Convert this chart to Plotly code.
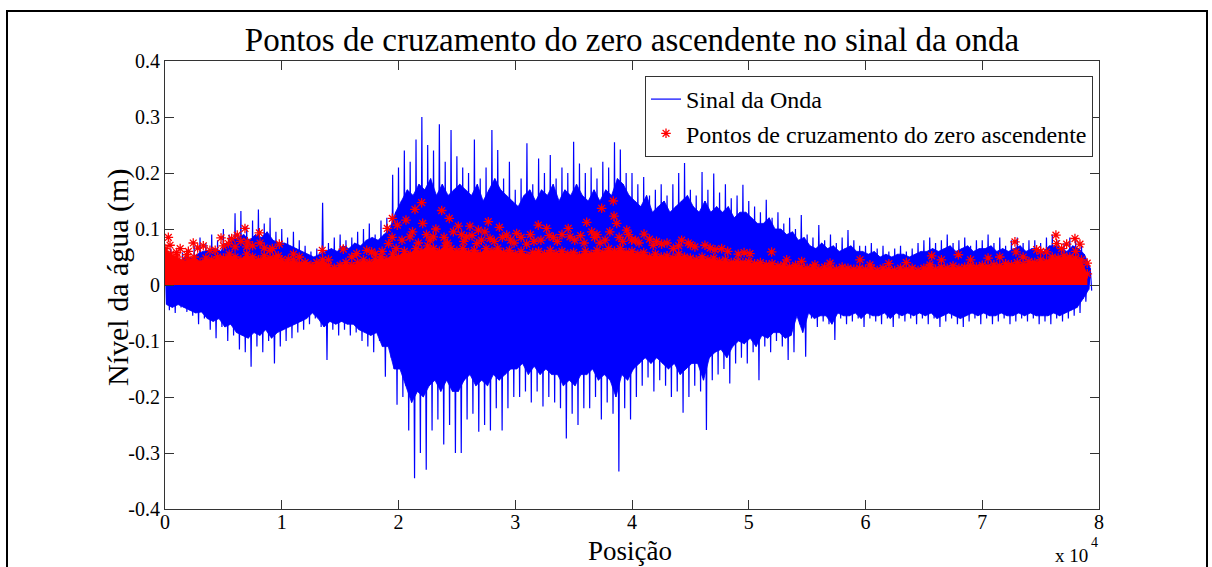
import plotly.graph_objects as go

# ---------------- data ----------------
# wave signal: largest peak (hi) / trough (lo) and typical peak (hi2) / trough (lo2)
# in each 500-position slot
sig_pos = list(range(0, 79001, 500))
sig_hi = [0.06, 0.065, 0.055, 0.058, 0.06, 0.07, 0.085, 0.075, 0.09, 0.08,
          0.10, 0.09, 0.128, 0.132, 0.105, 0.115, 0.135, 0.11, 0.12, 0.095,
          0.10, 0.085, 0.095, 0.08, 0.07, 0.06, 0.065, 0.147, 0.075, 0.085,
          0.09, 0.08, 0.085, 0.095, 0.10, 0.11, 0.09, 0.115, 0.12, 0.197,
          0.21, 0.24, 0.22, 0.26, 0.30, 0.25, 0.24, 0.287, 0.22, 0.277,
          0.23, 0.21, 0.20, 0.26, 0.19, 0.21, 0.277, 0.241, 0.19, 0.22,
          0.17, 0.19, 0.253, 0.18, 0.226, 0.20, 0.232, 0.19, 0.21, 0.20,
          0.256, 0.217, 0.20, 0.21, 0.19, 0.22, 0.21, 0.255, 0.242, 0.20,
          0.20, 0.18, 0.193, 0.16, 0.17, 0.18, 0.16, 0.18, 0.20, 0.218,
          0.17, 0.16, 0.202, 0.17, 0.199, 0.165, 0.18, 0.155, 0.16, 0.179,
          0.15, 0.14, 0.13, 0.152, 0.12, 0.13, 0.11, 0.12, 0.10, 0.125,
          0.09, 0.085, 0.107, 0.08, 0.09, 0.075, 0.085, 0.098, 0.08, 0.07,
          0.07, 0.075, 0.065, 0.07, 0.06, 0.065, 0.07, 0.06, 0.065, 0.075,
          0.08, 0.085, 0.075, 0.08, 0.09, 0.075, 0.08, 0.085, 0.07, 0.08,
          0.08, 0.09, 0.075, 0.085, 0.07, 0.08, 0.085, 0.075, 0.08, 0.08,
          0.075, 0.085, 0.09, 0.08, 0.075, 0.085, 0.08, 0.07, 0.04]
sig_lo = [-0.045, -0.05, -0.04, -0.048, -0.055, -0.07, -0.06, -0.08, -0.095, -0.075,
          -0.10, -0.09, -0.115, -0.12, -0.146, -0.11, -0.12, -0.10, -0.14, -0.11,
          -0.10, -0.095, -0.085, -0.08, -0.07, -0.06, -0.075, -0.134, -0.08, -0.09,
          -0.08, -0.09, -0.085, -0.10, -0.11, -0.12, -0.10, -0.164, -0.13, -0.214,
          -0.20, -0.26, -0.345, -0.30, -0.33, -0.26, -0.24, -0.285, -0.25, -0.30,
          -0.30, -0.24, -0.23, -0.262, -0.25, -0.26, -0.22, -0.26, -0.22, -0.20,
          -0.20, -0.19, -0.21, -0.19, -0.217, -0.20, -0.21, -0.22, -0.274, -0.23,
          -0.25, -0.22, -0.22, -0.20, -0.24, -0.21, -0.23, -0.333, -0.22, -0.24,
          -0.20, -0.18, -0.165, -0.19, -0.17, -0.18, -0.20, -0.19, -0.228, -0.20,
          -0.18, -0.19, -0.259, -0.17, -0.16, -0.15, -0.176, -0.14, -0.13, -0.14,
          -0.12, -0.17, -0.11, -0.12, -0.10, -0.11, -0.134, -0.12, -0.07, -0.128,
          -0.06, -0.075, -0.065, -0.07, -0.098, -0.06, -0.07, -0.065, -0.06, -0.075,
          -0.06, -0.065, -0.07, -0.06, -0.075, -0.06, -0.065, -0.06, -0.07, -0.06,
          -0.07, -0.06, -0.075, -0.065, -0.06, -0.07, -0.075, -0.065, -0.06, -0.07,
          -0.06, -0.07, -0.065, -0.06, -0.07, -0.065, -0.06, -0.065, -0.06, -0.07,
          -0.065, -0.07, -0.06, -0.065, -0.06, -0.055, -0.05, -0.03, -0.01]
sig_hi2 = [0.045, 0.05, 0.042, 0.05, 0.048, 0.055, 0.06, 0.062, 0.065, 0.06,
           0.075, 0.08, 0.085, 0.09, 0.08, 0.09, 0.085, 0.095, 0.08, 0.075,
           0.075, 0.07, 0.065, 0.06, 0.055, 0.05, 0.055, 0.06, 0.065, 0.06,
           0.07, 0.065, 0.075, 0.07, 0.08, 0.085, 0.08, 0.09, 0.10, 0.13,
           0.15, 0.17, 0.16, 0.18, 0.17, 0.19, 0.16, 0.18, 0.16, 0.17,
           0.18, 0.17, 0.16, 0.18, 0.15, 0.17, 0.19, 0.17, 0.16, 0.15,
           0.14, 0.16, 0.17, 0.15, 0.17, 0.16, 0.18, 0.15, 0.17, 0.16,
           0.18, 0.16, 0.15, 0.17, 0.15, 0.17, 0.16, 0.19, 0.18, 0.16,
           0.15, 0.14, 0.16, 0.13, 0.14, 0.15, 0.13, 0.14, 0.15, 0.16,
           0.14, 0.13, 0.15, 0.13, 0.14, 0.13, 0.14, 0.12, 0.13, 0.13,
           0.12, 0.11, 0.11, 0.12, 0.10, 0.10, 0.09, 0.095, 0.08, 0.085,
           0.07, 0.065, 0.075, 0.065, 0.07, 0.06, 0.065, 0.07, 0.06, 0.06,
           0.055, 0.06, 0.05, 0.055, 0.05, 0.055, 0.055, 0.05, 0.055, 0.06,
           0.06, 0.065, 0.06, 0.065, 0.07, 0.06, 0.065, 0.07, 0.06, 0.065,
           0.065, 0.07, 0.06, 0.065, 0.06, 0.065, 0.07, 0.06, 0.065, 0.065,
           0.06, 0.07, 0.07, 0.065, 0.06, 0.07, 0.065, 0.055, 0.03]
sig_lo2 = [-0.035, -0.04, -0.035, -0.04, -0.045, -0.05, -0.048, -0.06, -0.065, -0.06,
           -0.075, -0.07, -0.085, -0.09, -0.095, -0.085, -0.09, -0.08, -0.095, -0.085,
           -0.08, -0.075, -0.07, -0.065, -0.06, -0.05, -0.06, -0.075, -0.065, -0.07,
           -0.065, -0.07, -0.07, -0.08, -0.085, -0.09, -0.085, -0.11, -0.11, -0.15,
           -0.15, -0.18, -0.21, -0.19, -0.20, -0.18, -0.17, -0.19, -0.17, -0.19,
           -0.19, -0.17, -0.16, -0.18, -0.17, -0.18, -0.16, -0.17, -0.16, -0.15,
           -0.15, -0.14, -0.16, -0.145, -0.16, -0.15, -0.16, -0.16, -0.18, -0.17,
           -0.18, -0.16, -0.16, -0.15, -0.17, -0.16, -0.17, -0.20, -0.16, -0.17,
           -0.15, -0.14, -0.13, -0.14, -0.13, -0.14, -0.15, -0.14, -0.16, -0.15,
           -0.14, -0.14, -0.17, -0.13, -0.12, -0.115, -0.13, -0.11, -0.10, -0.105,
           -0.095, -0.11, -0.09, -0.095, -0.085, -0.085, -0.095, -0.09, -0.055, -0.085,
           -0.05, -0.06, -0.055, -0.055, -0.07, -0.05, -0.055, -0.055, -0.05, -0.06,
           -0.05, -0.055, -0.055, -0.05, -0.06, -0.05, -0.055, -0.05, -0.055, -0.05,
           -0.055, -0.05, -0.06, -0.055, -0.05, -0.055, -0.06, -0.055, -0.05, -0.055,
           -0.05, -0.055, -0.055, -0.05, -0.055, -0.055, -0.05, -0.055, -0.05, -0.055,
           -0.055, -0.055, -0.05, -0.055, -0.05, -0.045, -0.04, -0.025, -0.008]

# top of the dense cloud of red crossing points, every 500 positions
red_top = [0.065, 0.055, 0.05, 0.042, 0.045, 0.05, 0.04, 0.048, 0.045, 0.05,
           0.048, 0.055, 0.05, 0.045, 0.055, 0.05, 0.045, 0.052, 0.048, 0.05,
           0.045, 0.04, 0.045, 0.038, 0.04, 0.035, 0.04, 0.045, 0.035, 0.03,
           0.035, 0.04, 0.035, 0.04, 0.045, 0.04, 0.045, 0.05, 0.045, 0.055,
           0.05, 0.06, 0.055, 0.065, 0.06, 0.07, 0.065, 0.06, 0.07, 0.065,
           0.06, 0.065, 0.058, 0.062, 0.055, 0.065, 0.06, 0.066, 0.058, 0.062,
           0.055, 0.06, 0.052, 0.058, 0.06, 0.055, 0.062, 0.056, 0.06, 0.055,
           0.058, 0.052, 0.06, 0.055, 0.062, 0.058, 0.065, 0.06, 0.065, 0.058,
           0.06, 0.055, 0.058, 0.05, 0.055, 0.05, 0.052, 0.048, 0.055, 0.05,
           0.048, 0.045, 0.05, 0.045, 0.048, 0.042, 0.045, 0.04, 0.042, 0.04,
           0.042, 0.038, 0.04, 0.036, 0.038, 0.034, 0.036, 0.032, 0.035, 0.032,
           0.03, 0.032, 0.028, 0.032, 0.03, 0.028, 0.032, 0.03, 0.028, 0.03,
           0.028, 0.03, 0.026, 0.03, 0.028, 0.026, 0.03, 0.028, 0.03, 0.026,
           0.03, 0.032, 0.028, 0.032, 0.03, 0.034, 0.03, 0.032, 0.035, 0.032,
           0.035, 0.033, 0.036, 0.034, 0.038, 0.036, 0.04, 0.037, 0.042, 0.04,
           0.045, 0.042, 0.05, 0.048, 0.052, 0.05, 0.048, 0.045, 0.02]

# isolated up-crossing points standing above the dense cloud
red_x = [285, 430, 0, 2420, 3280, 3850, 1860, 4800, 5430, 5710,
         6190, 6850, 7050, 7000, 8080, 8140, 8990, 9790, 9700, 10560,
         12140, 13470, 15270, 16420, 17280, 17700, 19040, 19470, 19450, 19900,
         19800, 19150,
         20640, 21410, 21980, 22070, 23700, 24350, 24700, 25120, 26120, 26840,
         27690, 27840, 28640, 29270, 30120, 30980, 31970, 32690, 33260, 34540,
         34690, 36120, 36550, 37400, 38400, 38460, 38690, 39550, 39970, 37260,
         26700, 22980, 20980, 25840,
         41030, 41820, 42540, 43540, 44250, 44820, 45390, 46250, 47110, 47680,
         49100, 50100, 51960, 53250, 54530, 55670, 56960, 59530, 60380,
         65670, 67950, 72800, 72890, 74660, 75510, 76310, 76370, 77230, 77940,
         78370, 78990, 65520]
red_y = [0.085, 0.071, 0.06, 0.075, 0.070, 0.062, 0.054, 0.084, 0.074, 0.083,
         0.089, 0.101, 0.077, 0.068, 0.093, 0.075, 0.062, 0.073, 0.052, 0.046,
         0.036, 0.062, 0.064, 0.056, 0.062, 0.059, 0.101, 0.119, 0.085, 0.107,
         0.065, 0.074,
         0.116, 0.135, 0.147, 0.110, 0.133, 0.119, 0.095, 0.105, 0.105, 0.098,
         0.113, 0.083, 0.103, 0.089, 0.092, 0.073, 0.107, 0.101, 0.085, 0.101,
         0.086, 0.112, 0.095, 0.137, 0.150, 0.123, 0.110, 0.098, 0.080, 0.075,
         0.074, 0.086, 0.086, 0.086,
         0.091, 0.071, 0.073, 0.065, 0.080, 0.075, 0.068, 0.071, 0.063, 0.065,
         0.055, 0.056, 0.059, 0.045, 0.042, 0.036, 0.039, 0.045, 0.036,
         0.052, 0.054, 0.077, 0.059, 0.063, 0.059, 0.089, 0.074, 0.073, 0.083,
         0.073, 0.039, 0.036]
# further crossing points just above the dense cloud
red_x2 = [20300, 21200, 21700, 22400, 22700, 23200, 23900, 24200, 25400, 25600,
          26300, 27100, 27400, 28200, 28900, 29600, 29900, 30500, 31300, 31600,
          32200, 32900, 33600, 34000, 35100, 35600, 35900, 36800, 37000, 37700,
          38100, 38900, 39200, 39700, 40300, 40600, 41500, 42100, 43000, 44000,
          45000, 46700, 48200, 49600,
          1000, 1300, 2000, 2800, 4300, 5000, 6000, 6500, 7500, 8500,
          9200, 11000, 11500, 14000, 16000, 18000, 18600,
          62000, 63500, 66500, 69000, 70500, 71500, 73500, 75000, 76800, 78000]
red_y2 = [0.08, 0.095, 0.075, 0.09, 0.08, 0.10, 0.085, 0.075, 0.09, 0.078,
          0.088, 0.08, 0.095, 0.078, 0.085, 0.08, 0.075, 0.085, 0.09, 0.078,
          0.08, 0.088, 0.078, 0.09, 0.08, 0.088, 0.075, 0.085, 0.09, 0.08,
          0.095, 0.085, 0.078, 0.09, 0.08, 0.075, 0.082, 0.078, 0.075, 0.07,
          0.072, 0.066, 0.06, 0.058,
          0.058, 0.065, 0.06, 0.066, 0.062, 0.07, 0.068, 0.078, 0.07, 0.066,
          0.065, 0.055, 0.05, 0.045, 0.05, 0.055, 0.06,
          0.038, 0.04, 0.045, 0.045, 0.048, 0.05, 0.05, 0.06, 0.065, 0.06]

x_tick_vals = [0, 10000, 20000, 30000, 40000, 50000, 60000, 70000, 80000]
x_tick_text = ["0", "1", "2", "3", "4", "5", "6", "7", "8"]
y_tick_vals = [-0.4, -0.3, -0.2, -0.1, 0, 0.1, 0.2, 0.3, 0.4]
y_tick_text = ["-0.4", "-0.3", "-0.2", "-0.1", "0", "0.1", "0.2", "0.3", "0.4"]

BLUE = "#0000FF"
RED = "#FF0000"
FONT = "Liberation Serif"

# ---------------- build traces ----------------
wave_x, wave_y = [], []
for p, h, l2, h2, l in zip(sig_pos, sig_hi, sig_lo2, sig_hi2, sig_lo):
    wave_x += [p, p + 125, p + 250, p + 375]
    wave_y += [h, l2, h2, l]

# densely inked body of the signal: between the typical peaks and troughs
body_x = [p + 250 for p in sig_pos] + [p + 125 for p in sig_pos][::-1]
body_y = sig_hi2 + sig_lo2[::-1]

fig = go.Figure()

fig.add_trace(go.Scatter(
    x=body_x, y=body_y, fill="toself", fillcolor=BLUE, mode="lines",
    line=dict(width=0.8, color=BLUE, simplify=False),
    showlegend=False, hoverinfo="skip"))

fig.add_trace(go.Scatter(
    x=wave_x, y=wave_y, mode="lines", name="Sinal da Onda",
    line=dict(color=BLUE, width=1.2, simplify=False)))

fig.add_trace(go.Scatter(
    x=sig_pos, y=red_top, mode="lines", fill="tozeroy", fillcolor=RED,
    line=dict(width=0, color=RED), showlegend=False, hoverinfo="skip"))

star = dict(symbol="asterisk-open", size=8, color=RED, line=dict(color=RED, width=1.3))
fig.add_trace(go.Scatter(x=sig_pos, y=red_top, mode="markers", showlegend=False,
                         marker=star, hoverinfo="skip"))
fig.add_trace(go.Scatter(x=red_x2, y=red_y2, mode="markers", showlegend=False,
                         marker=star, hoverinfo="skip"))
fig.add_trace(go.Scatter(
    x=red_x, y=red_y, mode="markers", name="Pontos de cruzamento do zero ascendente",
    marker=star))

axis_common = dict(
    showline=True, linecolor="#333333", linewidth=1, mirror="ticks",
    ticks="inside", ticklen=9, tickwidth=1, tickcolor="#333333",
    showgrid=False, zeroline=False,
    tickfont=dict(family=FONT, size=20, color="black"))

fig.update_layout(
    width=1212, height=567,
    margin=dict(l=165, r=113, t=61, b=58),
    paper_bgcolor="white", plot_bgcolor="white",
    font=dict(family=FONT, color="black"),
    title=dict(text="Pontos de cruzamento do zero ascendente no sinal da onda",
               x=632 / 1212, xanchor="center", y=1 - 39 / 567, yanchor="middle",
               font=dict(family=FONT, size=33, color="black")),
    xaxis=dict(range=[0, 80000], tickvals=x_tick_vals, ticktext=x_tick_text,
               ticklabelstandoff=-5, **axis_common),
    yaxis=dict(range=[-0.4, 0.4], tickvals=y_tick_vals, ticktext=y_tick_text, **axis_common),
    legend=dict(x=(1093 - 165) / 934, xanchor="right", y=(509 - 76) / 448, yanchor="top",
                bgcolor="white", bordercolor="#333333", borderwidth=1,
                font=dict(family=FONT, size=24, color="black"),
                tracegroupgap=0, itemwidth=30),
    showlegend=True,
    annotations=[
        dict(text="Nível da água (m)", xref="paper", yref="paper",
             x=(118 - 165) / 934, y=(509 - 278) / 448, xanchor="center", yanchor="middle",
             textangle=-90, showarrow=False, font=dict(family=FONT, size=30, color="black")),
        dict(text="Posição", xref="paper", yref="paper",
             x=(630 - 165) / 934, y=(509 - 551) / 448, xanchor="center", yanchor="middle",
             showarrow=False, font=dict(family=FONT, size=27, color="black")),
        dict(text="x 10", xref="paper", yref="paper",
             x=(1090 - 165) / 934, y=(509 - 568) / 448, xanchor="right", yanchor="bottom",
             showarrow=False, font=dict(family=FONT, size=19, color="black")),
        dict(text="4", xref="paper", yref="paper",
             x=(1089 - 165) / 934, y=(509 - 542) / 448, xanchor="left", yanchor="middle",
             showarrow=False, font=dict(family=FONT, size=14, color="black")),
    ],
    shapes=[dict(type="rect", xref="paper", yref="paper",
                 x0=(7 - 165) / 934, x1=(1207 - 165) / 934,
                 y0=(509 - 590) / 448, y1=(509 - 11) / 448,
                 line=dict(color="black", width=2), fillcolor="rgba(0,0,0,0)", layer="below")],
)

fig.write_html("out.html")
